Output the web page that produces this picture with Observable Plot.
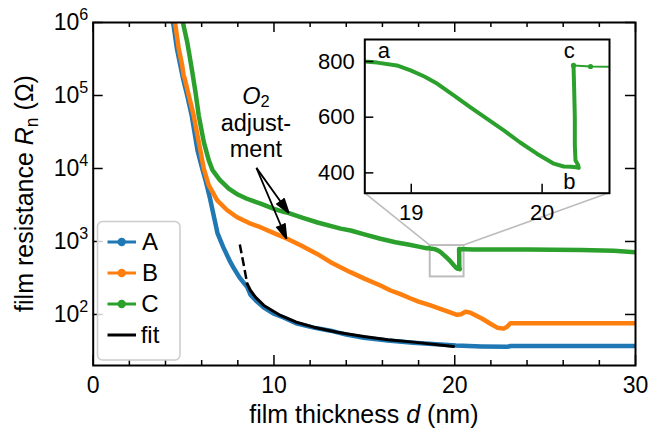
<!DOCTYPE html>
<html><head><meta charset="utf-8">
<script src="https://cdn.jsdelivr.net/npm/d3@7"></script>
<script src="https://cdn.jsdelivr.net/npm/@observablehq/plot@0.6"></script>
<style>
body{margin:0;background:white;}
#wrap{position:relative;width:650px;height:432px;}
#wrap svg{position:absolute;left:0;top:0;}
</style></head><body><div id="wrap"></div>
<script>
// ---------------- data (thickness d in nm, resistance R in ohm) ----------------
const seriesNames = ["A", "B", "C"];
const seriesColors = ["#1f77b4", "#ff7f0e", "#2ca02c"];

const A = [
  [4.30,1.4e6],[4.45,9.0e5],[4.63,4.4e5],[4.82,2.6e5],[4.95,1.8e5],[5.20,1.0e5],[5.45,5.3e4],
  [5.77,1.77e4],[6.03,1.0e4],[6.22,6.8e3],[6.45,4.0e3],[6.88,1.29e3],[7.20,830],[7.59,520],
  [7.76,440],[8.10,320],[8.52,237],[8.71,185],[9.00,155],[9.44,124],[9.98,103],[10.53,91],
  [11.28,75],[12.2,66],[13.13,60],[14.0,53],[14.97,48],[16.3,44],[17.7,41],[19.0,39],
  [20.06,37.6],[21.5,36.5],[22.9,36],[23.1,37],[25,37],[27.5,37],[30,37]
];
const B = [
  [4.40,1.4e6],[4.55,9.1e5],[4.73,4.4e5],[4.92,2.6e5],[5.00,1.9e5],[5.05,1.75e5],[5.29,1.0e5],
  [5.56,5.3e4],[5.84,2.3e4],[6.12,9.9e3],[6.39,5.9e3],[6.86,3.65e3],[7.4,2.7e3],[7.96,2.15e3],
  [8.6,1.8e3],[9.25,1.57e3],[10.0,1.3e3],[10.73,1.09e3],[11.5,880],[12.39,676],[13.13,520],
  [14.23,380],[15.0,310],[15.89,249],[16.45,213],[17.0,190],[17.5,168],[18.0,150],[18.66,133],
  [19.4,115],[20.13,99],[20.35,101],[20.59,109],[20.87,106],[21.5,88],[22.0,74],[22.35,66],
  [22.71,64],[22.9,68],[23.08,76],[25,76],[27.5,76],[30,76]
];
const C = [
  [4.90,1.3e6],[5.00,9.0e5],[5.20,5.4e5],[5.30,3.9e5],[5.48,2.1e5],[5.66,1.1e5],[5.84,5.3e4],
  [6.12,2.3e4],[6.39,1.3e4],[6.6,9.5e3],[7.0,7.0e3],[7.5,5.3e3],[8.0,4.4e3],[8.5,3.85e3],
  [9.26,3.3e3],[10.0,2.8e3],[10.53,2.55e3],[10.82,2.45e3],[11.6,2.1e3],[12.41,1.82e3],
  [13.69,1.5e3],[14.24,1.415e3],[15.0,1.25e3],[15.89,1.09e3],[16.72,977],[17.5,900],[18.0,850],
  [18.2,830],[18.45,808],[18.58,815],
  // zoomed section a -> b -> c
  [18.646,800],[18.74,796],[18.89,786],[18.995,768],[19.10,746],[19.20,720],[19.325,678],
  [19.45,636],[19.58,594],[19.71,552],[19.83,510],[19.96,469],[20.09,433],[20.165,423],
  [20.22,422],[20.26,420],[20.28,418],[20.275,428],[20.255,445],[20.25,500],[20.25,600],
  [20.245,700],[20.24,786],
  // after c (sparse)
  [20.37,782],[20.6,781],[21,778],[22,777],[23,776],[24,774],[25.5,770],[27,762],[28.8,745],[30,713]
];
const fitCurve = [
  [8.11,910],[8.30,520],[8.52,263],[8.70,213],[9.0,170],[9.44,133],[10.36,97],[11.2,79],
  [12.2,67],[13.5,57],[14.97,50],[16.3,45],[17.73,41.8],[19.94,36.5]
];
const fitDashedUntil = 8.52;

// tick values
const xMajorTicks = [0, 10, 20, 30];
const xMinorTicks = [2, 4, 6, 8, 12, 14, 16, 18, 22, 24, 26, 28];
const yMajorTicks = [1e2, 1e3, 1e4, 1e5, 1e6];

// inset (zoom region)
const insetXDomain = [18.645, 20.515];
const insetYDomain = [327, 879];
const insetXTicks = [19, 20];
const insetYTicks = [400, 600, 800];
const insetPointLabels = [
  {t: "a", d: 18.79, R: 838},
  {t: "c", d: 20.208, R: 838},
  {t: "b", d: 20.208, R: 367}
];

// annotation
const annotationLines = ["O2", "adjust-", "ment"];
const arrowFrom = [9.03, 10200];
const arrowTargets = [[10.82, 2450], [10.69, 1090]];

// ---------------- layout ----------------
const FONT = "'Liberation Sans', Arial, Helvetica, sans-serif";
const W = 650, H = 432;
const mL = 92.7, mR = 15, mT = 22, mB = 67;
const fw = W - mL - mR, fh = H - mT - mB;
const iL = 364.3, iR = 609, iT = 39, iB = 192.7;
const ifw = iR - iL, ifh = iB - iT;

const xy = {x: d => d[0], y: d => d[1]};
const fitDashed = fitCurve.filter(p => p[0] <= fitDashedUntil);
const fitSolid = fitCurve.filter(p => p[0] >= fitDashedUntil);

const main = Plot.plot({
  width: W, height: H,
  marginLeft: mL, marginRight: mR, marginTop: mT, marginBottom: mB,
  style: {fontFamily: FONT, fontSize: "23px", color: "black", background: "white"},
  x: {domain: [0, 30]},
  y: {type: "log", domain: [20, 1e6]},
  marks: [
    Plot.axisX({ticks: xMajorTicks, tickSize: 0, tickPadding: 11, label: null, tickFormat: d => String(d)}),
    Plot.axisY({ticks: yMajorTicks, tickSize: 0, tickPadding: 5, label: null,
                tickFormat: d => "10^" + Math.round(Math.log10(d))}),
    Plot.rect([{x1: insetXDomain[0], x2: insetXDomain[1], y1: insetYDomain[0], y2: insetYDomain[1]}],
      {x1: "x1", x2: "x2", y1: "y1", y2: "y2", fill: "none", stroke: "#bdbdbd", strokeWidth: 2}),
    Plot.line(A, {...xy, stroke: seriesColors[0], strokeWidth: 4.5, clip: true}),
    Plot.line(B, {...xy, stroke: seriesColors[1], strokeWidth: 4.5, clip: true}),
    Plot.line(C, {...xy, stroke: seriesColors[2], strokeWidth: 4.5, clip: true}),
    Plot.line(fitDashed, {...xy, stroke: "black", strokeWidth: 2.5, strokeDasharray: "9,4", strokeLinecap: "butt"}),
    Plot.line(fitSolid, {...xy, stroke: "black", strokeWidth: 3}),
    Plot.arrow(arrowTargets, {x1: () => arrowFrom[0], y1: () => arrowFrom[1], x2: d => d[0], y2: d => d[1],
      stroke: "black", fill: "black", strokeWidth: 1.8, headLength: 13, headAngle: 34, strokeLinecap: "butt"}),
    // inward ticks
    Plot.tickX(xMajorTicks, {x: d => d, insetTop: fh - 10, strokeWidth: 1.5}),
    Plot.tickX(xMajorTicks, {x: d => d, insetBottom: fh - 10, strokeWidth: 1.5}),
    Plot.tickX(xMinorTicks, {x: d => d, insetTop: fh - 5, strokeWidth: 1.5}),
    Plot.tickX(xMinorTicks, {x: d => d, insetBottom: fh - 5, strokeWidth: 1.5}),
    Plot.tickY(yMajorTicks, {y: d => d, insetRight: fw - 10, strokeWidth: 1.5}),
    Plot.tickY(yMajorTicks, {y: d => d, insetLeft: fw - 10, strokeWidth: 1.5}),
    Plot.frame({stroke: "black", strokeWidth: 2})
  ]
});

// superscript exponents
d3.select(main).selectAll("text").each(function () {
  const m = /^10\^(\d+)$/.exec(this.textContent);
  if (m) {
    this.textContent = "10";
    d3.select(this).append("tspan").attr("dy", -10).attr("font-size", "0.7em").text(m[1]);
  }
});

const xs = main.scale("x"), ys = main.scale("y");
const sm = d3.select(main);

// axis titles
const xt = sm.append("text").attr("x", mL + fw / 2).attr("y", 422.5).attr("text-anchor", "middle")
  .attr("font-family", FONT).attr("font-size", 25).attr("fill", "black");
xt.append("tspan").text("film thickness ");
xt.append("tspan").attr("font-style", "italic").text("d");
xt.append("tspan").text(" (nm)");

const yt = sm.append("text").attr("transform", `translate(33,${mT + fh / 2}) rotate(-90)`)
  .attr("text-anchor", "middle").attr("font-family", FONT).attr("font-size", 25).attr("fill", "black");
yt.append("tspan").text("film resistance ");
yt.append("tspan").attr("font-style", "italic").text("R");
yt.append("tspan").attr("font-size", "0.7em").attr("dy", 5).text("n");
yt.append("tspan").attr("dy", -5).text(" (\u03A9)");

// annotation text
const ax = xs.apply(arrowFrom[0]);
const at = sm.append("g").attr("font-family", FONT).attr("font-size", 23.5).attr("fill", "black").attr("text-anchor", "middle");
const l0 = at.append("text").attr("x", ax).attr("y", 103.5);
l0.append("tspan").attr("font-style", "italic").text(annotationLines[0][0]);
l0.append("tspan").attr("font-size", "0.7em").attr("dy", 3).text(annotationLines[0].slice(1));
at.append("text").attr("x", ax).attr("y", 130.5).text(annotationLines[1]);
at.append("text").attr("x", ax).attr("y", 156.5).text(annotationLines[2]);

// connectors from zoom box to inset
const rx1 = xs.apply(insetXDomain[0]), rx2 = xs.apply(insetXDomain[1]), ry = ys.apply(insetYDomain[1]);
sm.append("line").attr("x1", rx1).attr("y1", ry).attr("x2", iL).attr("y2", iB).attr("stroke", "#bdbdbd").attr("stroke-width", 1.6);
sm.append("line").attr("x1", rx2).attr("y1", ry).attr("x2", iR).attr("y2", iB).attr("stroke", "#bdbdbd").attr("stroke-width", 1.6);

// legend
const lg = sm.append("g").attr("font-family", FONT).attr("font-size", 24);
lg.append("rect").attr("x", 97.5).attr("y", 221.5).attr("width", 82.5).attr("height", 138.5).attr("rx", 5)
  .attr("fill", "white").attr("fill-opacity", 0.8).attr("stroke", "#cccccc").attr("stroke-width", 1.5);
const legendItems = seriesNames.map((n, i) => ({n, c: seriesColors[i], dot: true})).concat([{n: "fit", c: "black", dot: false}]);
legendItems.forEach((it, i) => {
  const y = 242 + i * 31;
  lg.append("line").attr("x1", 107.5).attr("x2", 136).attr("y1", y).attr("y2", y).attr("stroke", it.c).attr("stroke-width", 3);
  if (it.dot) lg.append("circle").attr("cx", 121.7).attr("cy", y).attr("r", 4.2).attr("fill", it.c);
  lg.append("text").attr("x", 150).attr("y", y).attr("dy", "0.35em").attr("fill", "black").text(it.n);
});

// ---------------- inset ----------------
let cIdx = C.findIndex(p => p[0] > 20.2 && p[1] > 700);
const Cthick = C.slice(0, cIdx + 1);
const Cthin = C.slice(cIdx);
const Cdots = Cthin.filter(p => p[0] > insetXDomain[0] && p[0] < insetXDomain[1]);

const inset = Plot.plot({
  width: W, height: H,
  marginLeft: iL, marginRight: W - iR, marginTop: iT, marginBottom: H - iB,
  style: {fontFamily: FONT, fontSize: "22px", color: "black", background: "transparent"},
  x: {domain: insetXDomain},
  y: {domain: insetYDomain},
  marks: [
    Plot.frame({fill: "white", stroke: "none"}),
    Plot.axisX({ticks: insetXTicks, tickSize: 0, tickPadding: 11, label: null, tickFormat: d => String(d)}),
    Plot.axisY({ticks: insetYTicks, tickSize: 0, tickPadding: 10, label: null, tickFormat: d => String(d)}),
    Plot.line(Cthick, {...xy, stroke: seriesColors[2], strokeWidth: 4, clip: true}),
    Plot.line(Cthin, {...xy, stroke: seriesColors[2], strokeWidth: 2, clip: true}),
    Plot.dot(Cdots, {...xy, r: 2.6, fill: seriesColors[2], stroke: "none"}),
    Plot.text(insetPointLabels, {x: "d", y: "R", text: "t", fontSize: 22}),
    Plot.tickX(insetXTicks, {x: d => d, insetTop: ifh - 9, strokeWidth: 1.5}),
    Plot.tickY(insetYTicks, {y: d => d, insetRight: ifw - 9, strokeWidth: 1.5}),
    Plot.frame({stroke: "black", strokeWidth: 2})
  ]
});

const wrap = document.getElementById("wrap");
wrap.appendChild(main);
wrap.appendChild(inset);
</script></body></html>
